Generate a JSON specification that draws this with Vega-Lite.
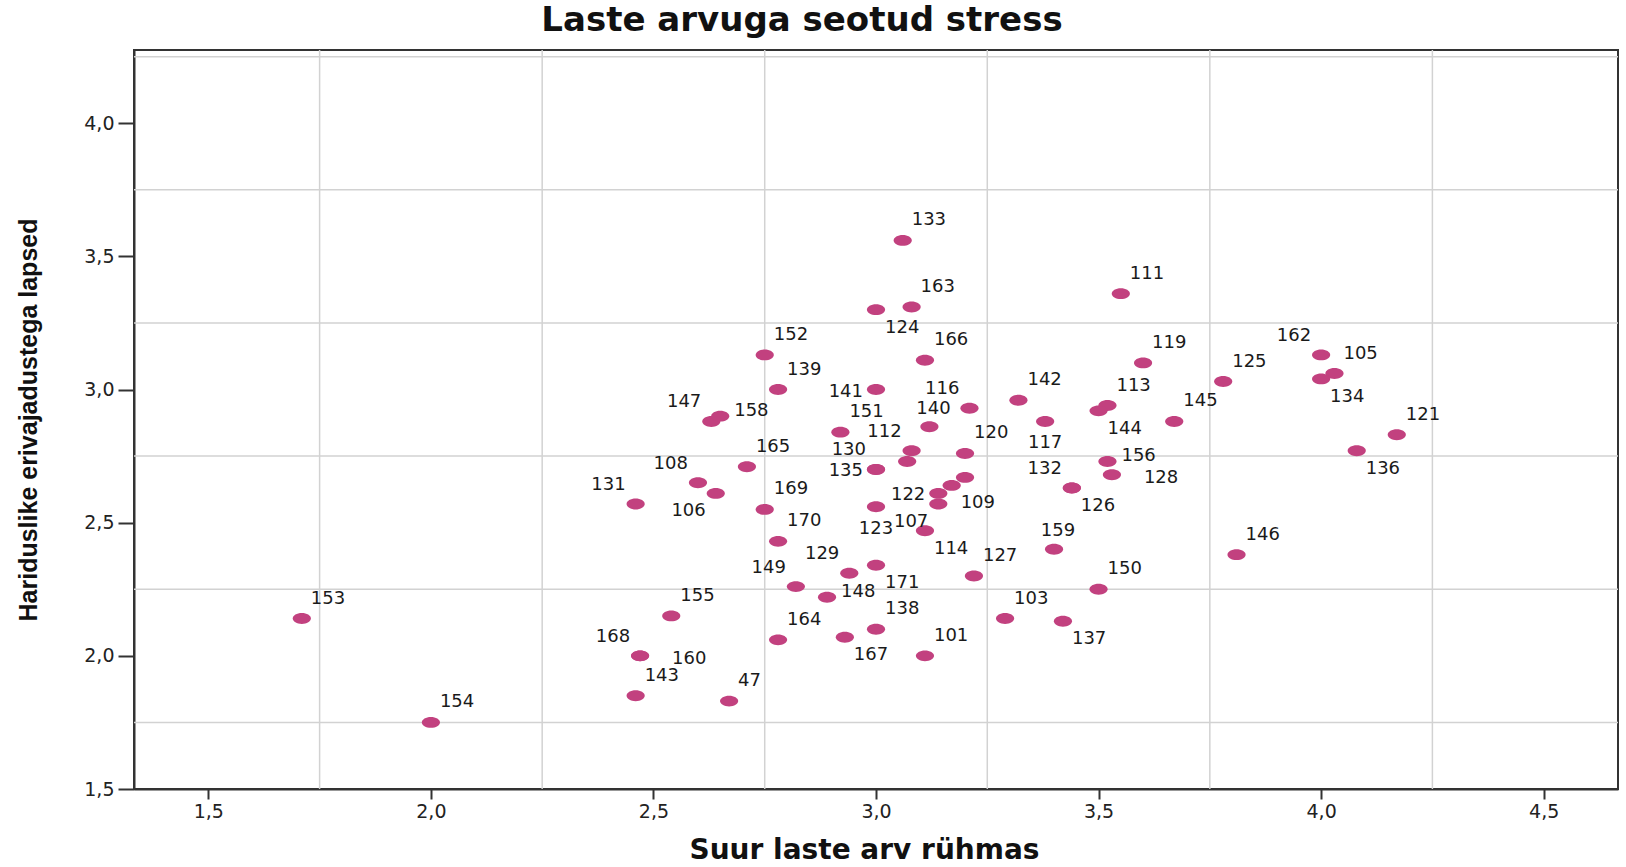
{
  "$schema": "https://vega.github.io/schema/vega-lite/v6.json",
  "autosize": "none",
  "width": 1484,
  "height": 739,
  "padding": {"left": 134, "top": 50, "right": 8, "bottom": 78},
  "background": "white",
  "config": {
    "view": {"stroke": "#333333", "strokeWidth": 2},
    "axis": {"grid": false}
  },
  "title": {
    "text": "Laste arvuga seotud stress",
    "font": "DejaVu Sans",
    "fontSize": 34,
    "fontWeight": "bold",
    "color": "#111111",
    "anchor": "middle",
    "frame": "group",
    "dx": -74,
    "offset": -16,
    "baseline": "alphabetic"
  },
  "datasets": {
    "pts": [
      {"id": "153", "x": 1.71, "y": 2.14, "lab": "ne"},
      {"id": "154", "x": 2.0, "y": 1.75, "lab": "ne"},
      {"id": "131", "x": 2.46, "y": 2.57, "lab": "nw"},
      {"id": "108", "x": 2.6, "y": 2.65, "lab": "nw"},
      {"id": "106", "x": 2.64, "y": 2.61, "lab": "sw"},
      {"id": "147", "x": 2.63, "y": 2.88, "lab": "nw"},
      {"id": "158", "x": 2.65, "y": 2.9, "lab": "e"},
      {"id": "165", "x": 2.71, "y": 2.71, "lab": "ne"},
      {"id": "152", "x": 2.75, "y": 3.13, "lab": "ne"},
      {"id": "139", "x": 2.78, "y": 3.0, "lab": "ne"},
      {"id": "169", "x": 2.75, "y": 2.55, "lab": "ne"},
      {"id": "170", "x": 2.78, "y": 2.43, "lab": "ne"},
      {"id": "155", "x": 2.54, "y": 2.15, "lab": "ne"},
      {"id": "168", "x": 2.47, "y": 2.0, "lab": "nw"},
      {"id": "160", "x": 2.47, "y": 2.0, "lab": "ef"},
      {"id": "143", "x": 2.46, "y": 1.85, "lab": "ne"},
      {"id": "47", "x": 2.67, "y": 1.83, "lab": "ne"},
      {"id": "164", "x": 2.78, "y": 2.06, "lab": "ne"},
      {"id": "167", "x": 2.93, "y": 2.07, "lab": "se"},
      {"id": "138", "x": 3.0, "y": 2.1, "lab": "ne"},
      {"id": "101", "x": 3.11, "y": 2.0, "lab": "ne"},
      {"id": "103", "x": 3.29, "y": 2.14, "lab": "ne"},
      {"id": "137", "x": 3.42, "y": 2.13, "lab": "se"},
      {"id": "150", "x": 3.5, "y": 2.25, "lab": "ne"},
      {"id": "127", "x": 3.22, "y": 2.3, "lab": "ne"},
      {"id": "159", "x": 3.4, "y": 2.4, "lab": "n"},
      {"id": "146", "x": 3.81, "y": 2.38, "lab": "ne"},
      {"id": "129", "x": 2.94, "y": 2.31, "lab": "nw"},
      {"id": "149", "x": 2.82, "y": 2.26, "lab": "nw"},
      {"id": "148", "x": 2.89, "y": 2.22, "lab": "e"},
      {"id": "171", "x": 3.0, "y": 2.34, "lab": "se"},
      {"id": "114", "x": 3.11, "y": 2.47, "lab": "se"},
      {"id": "133", "x": 3.06, "y": 3.56, "lab": "ne"},
      {"id": "163", "x": 3.08, "y": 3.31, "lab": "ne"},
      {"id": "124", "x": 3.0, "y": 3.3, "lab": "se"},
      {"id": "166", "x": 3.11, "y": 3.11, "lab": "ne"},
      {"id": "111", "x": 3.55, "y": 3.36, "lab": "ne"},
      {"id": "119", "x": 3.6, "y": 3.1, "lab": "ne"},
      {"id": "142", "x": 3.32, "y": 2.96, "lab": "ne"},
      {"id": "113", "x": 3.52, "y": 2.94, "lab": "ne"},
      {"id": "144", "x": 3.5, "y": 2.92, "lab": "se"},
      {"id": "125", "x": 3.78, "y": 3.03, "lab": "ne"},
      {"id": "162", "x": 4.0, "y": 3.13, "lab": "nw"},
      {"id": "105", "x": 4.03, "y": 3.06, "lab": "ne"},
      {"id": "134", "x": 4.0, "y": 3.04, "lab": "se"},
      {"id": "145", "x": 3.67, "y": 2.88, "lab": "ne"},
      {"id": "121", "x": 4.17, "y": 2.83, "lab": "ne"},
      {"id": "136", "x": 4.08, "y": 2.77, "lab": "se"},
      {"id": "117", "x": 3.38, "y": 2.88, "lab": "s"},
      {"id": "156", "x": 3.52, "y": 2.73, "lab": "e"},
      {"id": "128", "x": 3.53, "y": 2.68, "lab": "ef"},
      {"id": "126", "x": 3.44, "y": 2.63, "lab": "se"},
      {"id": "132", "x": 3.44, "y": 2.63, "lab": "nw"},
      {"id": "116", "x": 3.21, "y": 2.93, "lab": "nw"},
      {"id": "141", "x": 3.0, "y": 3.0, "lab": "w"},
      {"id": "120", "x": 3.2, "y": 2.76, "lab": "ne"},
      {"id": "151", "x": 2.92, "y": 2.84, "lab": "ne"},
      {"id": "140", "x": 3.12, "y": 2.86, "lab": "n"},
      {"id": "112", "x": 3.08, "y": 2.77, "lab": "nw"},
      {"id": "", "x": 3.07, "y": 2.73, "lab": "none"},
      {"id": "130", "x": 3.0, "y": 2.7, "lab": "nw"},
      {"id": "135", "x": 3.0, "y": 2.7, "lab": "w"},
      {"id": "", "x": 3.2, "y": 2.67, "lab": "none"},
      {"id": "109", "x": 3.17, "y": 2.64, "lab": "se"},
      {"id": "122", "x": 3.14, "y": 2.61, "lab": "w"},
      {"id": "107", "x": 3.14, "y": 2.57, "lab": "sw"},
      {"id": "123", "x": 3.0, "y": 2.56, "lab": "s"}
    ],
    "gx": [{"x": 1.75}, {"x": 2.25}, {"x": 2.75}, {"x": 3.25}, {"x": 3.75}, {"x": 4.25}],
    "gy": [{"y": 1.75}, {"y": 2.25}, {"y": 2.75}, {"y": 3.25}, {"y": 3.75}, {"y": 4.25}]
  },
  "encoding": {
    "x": {
      "field": "x", "type": "quantitative",
      "scale": {"domain": [1.333, 4.667], "nice": false, "zero": false},
      "axis": {
        "title": "Suur laste arv rühmas",
        "values": [1.5, 2, 2.5, 3, 3.5, 4, 4.5],
        "labelExpr": "replace(format(datum.value, '.1f'), '.', ',')",
        "labelFont": "DejaVu Sans", "labelFontSize": 19, "labelColor": "#222222", "labelPadding": 3,
        "domainColor": "#333333", "domainWidth": 2,
        "tickColor": "#333333", "tickWidth": 2, "tickSize": 10,
        "titleFont": "DejaVu Sans", "titleFontSize": 28, "titleFontWeight": "bold", "titleColor": "#111111",
        "titleX": 730, "titleY": 69, "titleAlign": "center", "titleBaseline": "alphabetic"
      }
    },
    "y": {
      "field": "y", "type": "quantitative",
      "scale": {"domain": [1.5, 4.275], "nice": false, "zero": false},
      "axis": {
        "title": "Hariduslike erivajadustega lapsed",
        "values": [1.5, 2, 2.5, 3, 3.5, 4],
        "labelExpr": "replace(format(datum.value, '.1f'), '.', ',')",
        "labelFont": "DejaVu Sans", "labelFontSize": 19, "labelColor": "#222222", "labelPadding": 4,
        "domainColor": "#333333", "domainWidth": 2,
        "tickColor": "#333333", "tickWidth": 2, "tickSize": 16,
        "titleFont": "Liberation Sans", "titleFontSize": 25, "titleFontWeight": "bold", "titleColor": "#111111",
        "titleAngle": -90, "titleX": -106, "titleY": 369.5, "titleAlign": "center", "titleBaseline": "middle"
      }
    }
  },
  "layer": [
    {
      "data": {"name": "gx"},
      "mark": {"type": "rule", "color": "#d2d2d2", "strokeWidth": 1.5},
      "encoding": {"y": null}
    },
    {
      "data": {"name": "gy"},
      "mark": {"type": "rule", "color": "#d2d2d2", "strokeWidth": 1.5},
      "encoding": {"x": null}
    },
    {
      "data": {"name": "pts"},
      "mark": {
        "type": "point",
        "filled": true,
        "opacity": 1,
        "color": "#C2417F",
        "size": 330,
        "shape": "M -1 0 C -1 -0.3314 -0.5523 -0.6 0 -0.6 C 0.5523 -0.6 1 -0.3314 1 0 C 1 0.3314 0.5523 0.6 0 0.6 C -0.5523 0.6 -1 0.3314 -1 0 Z"
      }
    },
    {
      "data": {"name": "pts"},
      "transform": [{"filter": "datum.lab == 'ne'"}],
      "mark": {"type": "text", "align": "left", "baseline": "middle", "dx": 9, "dy": -20, "font": "DejaVu Sans", "fontSize": 18, "color": "#1a1a1a"},
      "encoding": {"text": {"field": "id"}}
    },
    {
      "data": {"name": "pts"},
      "transform": [{"filter": "datum.lab == 'se'"}],
      "mark": {"type": "text", "align": "left", "baseline": "middle", "dx": 9, "dy": 18, "font": "DejaVu Sans", "fontSize": 18, "color": "#1a1a1a"},
      "encoding": {"text": {"field": "id"}}
    },
    {
      "data": {"name": "pts"},
      "transform": [{"filter": "datum.lab == 'nw'"}],
      "mark": {"type": "text", "align": "right", "baseline": "middle", "dx": -10, "dy": -19, "font": "DejaVu Sans", "fontSize": 18, "color": "#1a1a1a"},
      "encoding": {"text": {"field": "id"}}
    },
    {
      "data": {"name": "pts"},
      "transform": [{"filter": "datum.lab == 'sw'"}],
      "mark": {"type": "text", "align": "right", "baseline": "middle", "dx": -10, "dy": 18, "font": "DejaVu Sans", "fontSize": 18, "color": "#1a1a1a"},
      "encoding": {"text": {"field": "id"}}
    },
    {
      "data": {"name": "pts"},
      "transform": [{"filter": "datum.lab == 'e'"}],
      "mark": {"type": "text", "align": "left", "baseline": "middle", "dx": 14, "dy": -5, "font": "DejaVu Sans", "fontSize": 18, "color": "#1a1a1a"},
      "encoding": {"text": {"field": "id"}}
    },
    {
      "data": {"name": "pts"},
      "transform": [{"filter": "datum.lab == 'ef'"}],
      "mark": {"type": "text", "align": "left", "baseline": "middle", "dx": 32, "dy": 3, "font": "DejaVu Sans", "fontSize": 18, "color": "#1a1a1a"},
      "encoding": {"text": {"field": "id"}}
    },
    {
      "data": {"name": "pts"},
      "transform": [{"filter": "datum.lab == 'w'"}],
      "mark": {"type": "text", "align": "right", "baseline": "middle", "dx": -13, "dy": 2, "font": "DejaVu Sans", "fontSize": 18, "color": "#1a1a1a"},
      "encoding": {"text": {"field": "id"}}
    },
    {
      "data": {"name": "pts"},
      "transform": [{"filter": "datum.lab == 'n'"}],
      "mark": {"type": "text", "align": "center", "baseline": "middle", "dx": 4, "dy": -18, "font": "DejaVu Sans", "fontSize": 18, "color": "#1a1a1a"},
      "encoding": {"text": {"field": "id"}}
    },
    {
      "data": {"name": "pts"},
      "transform": [{"filter": "datum.lab == 's'"}],
      "mark": {"type": "text", "align": "center", "baseline": "middle", "dx": 0, "dy": 22, "font": "DejaVu Sans", "fontSize": 18, "color": "#1a1a1a"},
      "encoding": {"text": {"field": "id"}}
    }
  ]
}
